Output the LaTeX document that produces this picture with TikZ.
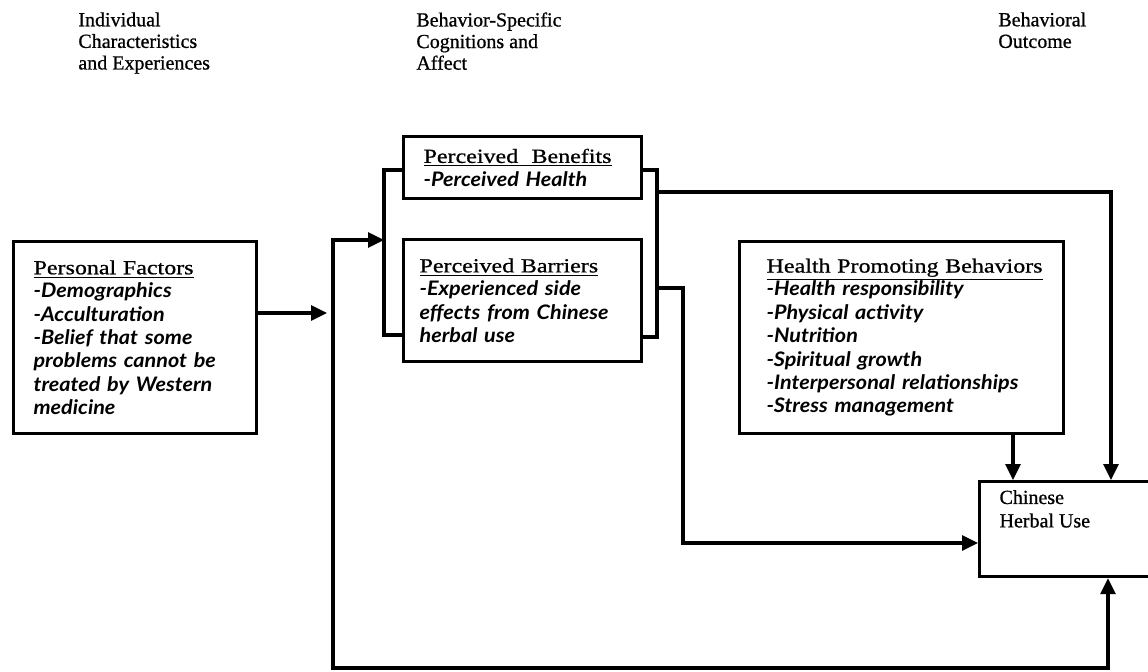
\documentclass[tikz,border=0pt]{standalone}
\usepackage{fontspec}
\setmainfont{Liberation Serif}[FakeBold=0.8]
\newfontfamily\boxfont{Liberation Serif}[FakeStretch=1.2, FakeBold=0.8]
\newfontfamily\itemfont{Lato}[FakeStretch=1.08]
\usetikzlibrary{arrows.meta,positioning,calc}
\newcommand{\hd}[1]{\underline{#1}}
\newcommand{\itm}[1]{\mbox{\itemfont\itshape\bfseries #1}}

\begin{document}
\begin{tikzpicture}[
  x=0.5pt, y=-0.5pt,
  font=\boxfont\fontsize{10}{11.7}\selectfont,
  box/.style={draw, line width=1.6pt, anchor=north west, inner sep=0pt, align=left},
  hdr/.style={anchor=north west, inner sep=0pt, align=left,
              font=\rmfamily\fontsize{10}{10.8}\selectfont},
  line/.style={line width=1.6pt},
  arrow/.style={-{Triangle[length=8pt,width=7.5pt]}, line width=1.6pt},
  arrows2/.style={{Triangle[length=8pt,width=7.5pt]}-{Triangle[length=8pt,width=7.5pt]}, line width=1.6pt}
]
\useasboundingbox (0,0) rectangle (1148,671);
\node[hdr] (hind) at (78,12) {Individual\\Characteristics\\and Experiences};
\node[hdr] (hbeh) at (416,12) {Behavior-Specific\\Cognitions and\\Affect};
\node[hdr] (hout) at (998,12) {Behavioral\\Outcome};
\node[box, minimum width=121.5pt, minimum height=96pt, text width=101.5pt] (pers) at (12,240)
  {\hd{Personal Factors}\\\itm{-Demographics}\\\itm{-Acculturation}\\\itm{-Belief that some}\\
   \itm{problems cannot be}\\\itm{treated by Western}\\\itm{medicine}};
\node[box, minimum width=119pt, minimum height=31pt, text width=99pt] (ben) at (402,135)
  {\hd{Perceived~ Benefits}\\\itm{-Perceived Health}};
\node[box, minimum width=119pt, minimum height=61pt, text width=103pt] (bar) at (402,238)
  {\hd{Perceived Barriers}\\\itm{-Experienced side}\\\itm{effects from Chinese}\\\itm{herbal use}};
\node[box, minimum width=162pt, minimum height=96pt, text width=135pt] (hpb) at (738,240)
  {\hd{Health Promoting Behaviors}\\\itm{-Health responsibility}\\\itm{-Physical activity}\\
   \itm{-Nutrition}\\\itm{-Spiritual growth}\\\itm{-Interpersonal relationships}\\\itm{-Stress management}};
\node[box, minimum width=100pt, minimum height=47.5pt] (chu) at (978,480)
  {\parbox[c][39pt][t]{80pt}{\rmfamily Chinese\\Herbal Use}};
\coordinate (bL1) at (384,170);
\coordinate (bL2) at (384,335);
\coordinate (bR1) at (657,170);
\coordinate (bR2) at (657,337);
\coordinate (bRa) at (657,192);
\coordinate (bRb) at (657,288);
\coordinate (brkin) at (384,240);
\coordinate (pout) at ($(pers.north east)+(0,73)$);
\coordinate (pfend) at (327,313);
\coordinate (loopL) at (333,668);
\coordinate (loopR) at (1108,668);
\coordinate (dropB) at (1111,0);
\coordinate (dropH) at (1013,0);
\coordinate (dropX) at (683,543);
\draw[line] (ben.west |- bL1) -- (bL1) -- (bL2) -- (bar.west |- bL2);
\draw[line] (ben.east |- bR1) -- (bR1) -- (bR2) -- (bar.east |- bR2);
\draw[arrow] (pout) -- (pfend);
\draw[arrows2] (brkin) -| (loopL) -| (chu.south -| loopR);
\draw[arrow] (bRa) -| (dropB |- chu.north);
\draw[arrow] (dropH |- hpb.south) -- (dropH |- chu.north);
\draw[arrow] (bRb) -| (dropX) -- (chu.west |- dropX);
\end{tikzpicture}
\end{document}
